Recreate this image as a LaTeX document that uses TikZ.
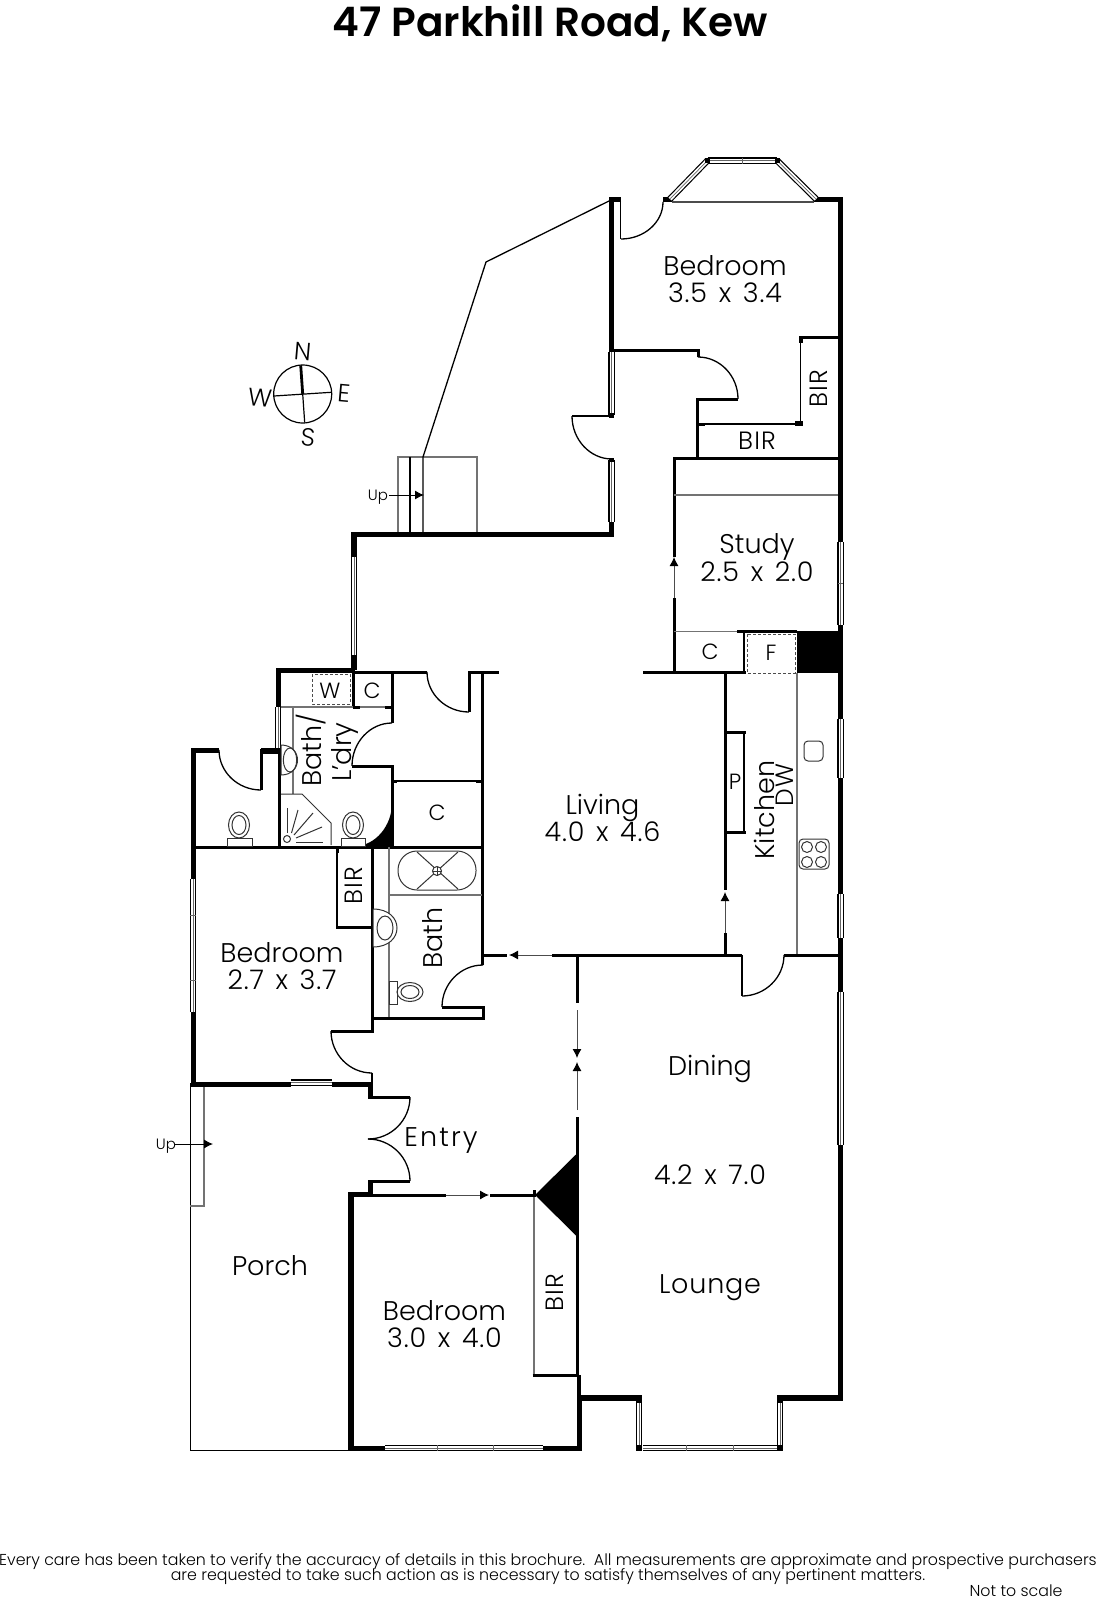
\documentclass[tikz,border=0pt]{standalone}
\usepackage{fontspec}
\setmainfont{Poppins}[UprightFont=* Light,BoldFont=* SemiBold]
\usetikzlibrary{calc,arrows.meta}
\newcommand\dimt[2]{{\addfontfeature{LetterSpace=3}#1\ \hspace{3.5pt}x\ \hspace{3.5pt}#2}}
\tikzset{
 wallA/.style={line width=5.5pt,line cap=butt,line join=miter},
 wallB/.style={line width=3pt,line cap=butt,line join=miter},
 wallC/.style={line width=1.3pt},
 greyl/.style={line width=1.4pt,draw=black!55},
 fix/.style={line width=1pt,draw=black!80},
 dashbox/.style={line width=1pt,draw=black!70,dash pattern=on 3pt off 2pt},
 arrowl/.style={line width=1pt,draw=black!70,-{Latex[length=9pt,width=9pt,black]}},
 lab/.style={font=\fontsize{27}{27}\selectfont,inner sep=0pt,align=center,text height=19pt,text depth=0pt},
 labs/.style={font=\fontsize{22}{22}\selectfont,inner sep=0pt,text height=15.5pt,text depth=0pt},
 labb/.style={font=\fontsize{25}{25}\selectfont\addfontfeature{LetterSpace=5},inner sep=0pt,text height=17.5pt,text depth=0pt},
 labt/.style={font=\fontsize{15}{15}\selectfont,inner sep=0pt,text height=10.5pt,text depth=0pt},
 foot/.style={font=\fontsize{15.8}{15.8}\selectfont,inner sep=0pt},
}
\newcommand\qarc[3]{\draw[wallC] (#1) .. controls ($(#1)!0.55!(#2)$) and ($(#3)!0.55!(#2)$) .. (#3);}
\newcommand\winw[2]{%
 \draw[line width=6.4pt,black] (#1) -- (#2);
 \draw[line width=4pt,white] (#1) -- (#2);
 \draw[line width=.7pt,black!60] (#1) -- (#2);}
\begin{document}
\begin{tikzpicture}[x=1pt,y=-1pt]
\useasboundingbox (0,0) rectangle (1096,1600);
\fill[white] (0,0) rectangle (1096,1600);
% title
\node[font=\bfseries\fontsize{40.6}{41}\selectfont,inner sep=0pt] (title) at (550,23) {47 Parkhill Road, Kew};
% compass
\draw[line width=1.2pt] (302.7,394) circle (29);
\draw[line width=1.2pt] (274,396) -- (331.3,392.3);
\draw[line width=1.2pt] (302.7,394) -- (304.7,422.7);
\draw[line width=2.8pt] (300.7,365.3) -- (302.7,394);
\node[labb,rotate=-5] (cn) at (302.7,352) {N};
\node[labb,rotate=-5] (ce) at (344,393) {E};
\node[labb,rotate=-5] (cs) at (308,437) {S};
\node[labb,rotate=-5] (cw) at (260,398) {W};
% outer stair
\draw[greyl] (398,532) -- (398,457) -- (477,457) -- (477,532);
\draw[wallC] (410,457) -- (410,532);
\draw[wallC] (423,532) -- (423,457) -- (486,262) -- (609,201);
\node[labt] (up1) at (378,495) {Up};
\draw[arrowl,draw=black] (389,495) -- (424,495);
% right bedroom walls
\draw[wallA] (621,199.5) -- (611.5,199.5) -- (611.5,352);
\draw[wallC] (620.7,197) -- (620.7,239);
\qarc{621,239}{663,239}{663,202}
\draw[wallA] (663,199.5) -- (672,199.5);
\draw[wallA] (814,199.5) -- (840.5,199.5) -- (840.5,542);
\draw[line width=1.2pt,black!70] (672,202) -- (814,202);
\winw{670,199}{707.5,160.5}
\winw{707.5,160.5}{777,160.5}
\winw{777,160.5}{816,199}
\fill (705,157.5) rectangle (710,163);
\fill (775,157.5) rectangle (780,163);
\draw[line width=.8pt,black!60] (742,157.5) -- (742,163.5);
\winw{611.5,352}{611.5,415}
\winw{611.5,460}{611.5,522}
\draw[wallA] (611.5,522) -- (611.5,534.5) -- (351,534.5);
\draw[wallA] (354,534) -- (354,557);
\winw{354,557}{354,655}
\draw[wallA] (354,655) -- (354,670);
\fill (609,413) rectangle (614,418);
\fill (609,458) rectangle (614,462);
\draw[wallB] (611.5,350) -- (698.5,350) -- (698.5,357);
\qarc{698,357}{738,357}{738,399}
\draw[wallB] (738,399) -- (697,399) -- (697,458);
\draw[line width=1.4pt] (612,416) -- (572,416);
\qarc{572,416}{572,459}{612,459}
\draw[wallC] (697,424) -- (800.7,424) -- (800.7,337);
\draw[wallB] (697,424) -- (705,424);
\fill (795,421) rectangle (802.5,426);
\fill (799,336) rectangle (802.5,343);
\draw[wallB] (799,337) -- (838,337);
\node[labb,rotate=90] (bir1) at (819,389) {BIR};
\node[labb] (bir2) at (757,441) {BIR};
\node[lab] (bed1) at (725,266) {Bedroom};
\node[lab] (bed1d) at (725,293) {\dimt{3.5}{3.4}};
% study
\draw[wallB] (838,458.5) -- (674.5,458.5) -- (674.5,557);
\draw[greyl] (674,495) -- (838,495);
\draw[arrowl] (674,598) -- (674,557);
\draw[wallB] (674,598) -- (674,673);
\draw[greyl] (674,631.5) -- (737,631.5);
\draw[wallB] (737,631.5) -- (797,631.5);
\draw[wallB] (643,672) -- (746,672);
\draw[line width=2pt] (744,631) -- (744,672);
\node[lab] (study) at (757,544) {Study};
\node[lab] (studyd) at (757,572) {\dimt{2.5}{2.0}};
\node[labs] (c1) at (710,652) {C};
\draw[dashbox] (747,634) rectangle (795,673);
\node[labs] (f1) at (771,653) {F};
\fill (797,631) rectangle (843,673);
% right wall
\winw{840.5,542}{840.5,625}
\draw[wallA] (840.5,625) -- (840.5,719);
\winw{840.5,719}{840.5,778}
\draw[wallA] (840.5,778) -- (840.5,894);
\winw{840.5,894}{840.5,938}
\draw[wallA] (840.5,938) -- (840.5,992);
\winw{840.5,992}{840.5,1145}
\draw[line width=.8pt,black!60] (838,583) -- (843,583);
\draw[wallA] (840.5,1145) -- (840.5,1398) -- (777,1398);
% kitchen
\draw[greyl] (797,673) -- (797,955);
\draw[wallB] (725,672) -- (725,890);
\draw[arrowl] (725,933) -- (725,892);
\draw[wallB] (725,933) -- (725,955);
\draw[wallB] (725,732) -- (746,732);
\draw[wallB] (725,832) -- (746,832);
\draw[line width=1.3pt] (744,732) -- (744,832);
\node[labs] (p1) at (735,782) {P};
\node[font=\fontsize{27}{27}\selectfont,inner sep=0pt,rotate=90,text height=19pt,text depth=0pt] (kit) at (765,810) {Kitchen};
\node[labb,rotate=90] (dw) at (785,785) {DW};
\draw[fix,rounded corners=4pt] (804,741) rectangle (823,761);
\draw[fix,rounded corners=4pt] (799,839) rectangle (829,869);
\foreach \cx in {807,821} \foreach \cy in {847,862} \draw[fix] (\cx,\cy) circle (5.5);
% mid wall
\draw[wallB] (482,955) -- (507,955);
\draw[arrowl] (552,955) -- (509,955);
\draw[wallB] (552,955) -- (742,955);
\draw[wallB] (784,955) -- (838,955);
\draw[line width=1.2pt] (742,955) -- (742,996);
\qarc{742,996}{784,996}{784,955}
\node[lab] (living) at (602.5,805) {Living};
\node[lab] (livingd) at (602.5,832) {\dimt{4.0}{4.6}};
\node[lab] (dining) at (710,1066) {Dining};
\node[lab] (dd) at (710,1175) {\dimt{4.2}{7.0}};
\node[lab,font=\fontsize{27}{27}\selectfont\addfontfeature{LetterSpace=3}] (lounge) at (710,1284) {Lounge};
% centre spine
\draw[wallB] (577,955) -- (577,1003);
\draw[arrowl] (577,1010) -- (577,1058);
\draw[arrowl] (577,1110) -- (577,1062);
\draw[wallB] (577,1117) -- (577,1375);
\draw[line width=4pt] (578.5,1375) -- (578.5,1398);
\fill (535,1195) -- (577.5,1153) -- (577.5,1237) -- cycle;
\draw[greyl] (534,1195) -- (534,1375);
\draw[wallB] (532.5,1375) -- (578,1375);
\draw[wallB] (534,1197) -- (534,1190);
\draw[wallB] (373,1195) -- (446,1195);
\draw[arrowl] (446,1195) -- (489,1195);
\draw[wallB] (490,1195) -- (535,1195);
\node[labb,rotate=90] (bir3) at (555,1293) {BIR};
\node[lab] (bed3) at (444.5,1311) {Bedroom};
\node[lab] (bed3d) at (444.5,1338) {\dimt{3.0}{4.0}};
% lower bedroom
\draw[wallA] (373,1194.5) -- (351,1194.5) -- (351,1448.5) -- (385,1448.5);
\draw[wallA] (543,1448.5) -- (579.5,1448.5) -- (579.5,1395);
\winw{385,1448}{543,1448}
\draw[line width=.8pt,black!60] (437,1445) -- (437,1451);
\draw[line width=.8pt,black!60] (493,1445) -- (493,1451);
% lounge bay
\draw[wallA] (578,1398) -- (642,1398);
\winw{639,1402}{639,1445}
\winw{780,1402}{780,1445}
\winw{643,1448}{777,1448}
\fill (636,1395) rectangle (642,1403);
\fill (777,1395) rectangle (783,1403);
\fill (636,1445) rectangle (642,1451);
\fill (777,1445) rectangle (783,1451);
\draw[line width=.8pt,black!60] (686,1445) -- (686,1451);
\draw[line width=.8pt,black!60] (733,1445) -- (733,1451);
% entry
\draw[wallA] (370.5,1197) -- (370.5,1181);
\draw[wallB] (368,1181) -- (410,1181);
\qarc{410,1181}{410,1139}{368,1139}
\qarc{410,1097}{410,1139}{368,1139}
\draw[wallB] (368,1097) -- (410,1097);
\draw[wallA] (370.5,1097) -- (370.5,1082);
\draw[wallA] (332,1084.5) -- (373,1084.5);
\draw[wallC] (372,1073) -- (372,1082);
\qarc{331,1031}{331,1073}{372,1073}
\draw[wallB] (331,1031) -- (372,1031) -- (372,847);
\node[lab,font=\fontsize{27}{27}\selectfont\addfontfeature{LetterSpace=8}] (entry) at (441,1137) {Entry};
% porch
\draw[line width=1pt] (190,1083) -- (190,1450.5) -- (350,1450.5);
\draw[greyl] (190,1206) -- (204,1206) -- (204,1084);
\node[labt] (up2) at (166,1144) {Up};
\draw[arrowl,draw=black] (175,1144) -- (213,1144);
\node[lab] (porch) at (270,1266) {Porch};
% west rooms
\draw[wallA] (219,750.5) -- (193.5,750.5) -- (193.5,879);
\winw{193,879}{193,1012}
\draw[line width=.8pt,black!60] (190,915) -- (196,915);
\draw[line width=.8pt,black!60] (190,980) -- (196,980);
\draw[wallA] (193.5,1012) -- (193.5,1084.5) -- (291,1084.5);
\winw{291,1082.5}{332,1082.5}
\draw[wallA] (261,751) -- (281,751);
\draw[wallB] (261,749) -- (261,790);
\qarc{261,790}{219,790}{219,750}
\draw[wallB] (191,847) -- (482,847);
\draw[wallB] (279,750) -- (279,847);
\draw[wallA] (278.5,707) -- (278.5,670.5) -- (355,670.5);
\winw{278,707}{278,748}
\draw[wallB] (355,672) -- (427,672);
\qarc{469,712}{427,712}{427,672}
\draw[wallB] (469,712) -- (469,672) -- (499,672);
\draw[wallB] (482,672) -- (482,965);
\draw[wallB] (392,672) -- (392,723);
\qarc{392,723}{352,723}{352,766}
\draw[wallB] (352,766) -- (392,766) -- (392,847);
\draw[wallB] (353,672) -- (353,707);
\draw[greyl] (281,707) -- (392,707);
\draw[wallB] (353,707) -- (360,707);
\draw[wallB] (385,707) -- (392,707);
\fill (392,803) .. controls (392,826) and (375,846) .. (355,846) -- (392,846) -- cycle;
\draw[wallC] (392,781) -- (481,781);
\draw[wallB] (392,781) -- (397,781);
\draw[wallB] (476,781) -- (481,781);
\node[labs] (c2) at (437,813) {C};
\draw[dashbox] (312,674) rectangle (350,704);
\node[labs] (w1) at (330,691) {W};
\node[labs] (c3) at (372,691) {C};
\draw[greyl] (293,707) -- (293,794);
% basin laundry
\draw[fix,fill=white] (281,745) .. controls (303,745) and (303,775) .. (281,775) -- cycle;
\draw[fix] (290,760) ellipse (6.7 and 12);
% shower
\draw[fix] (281,794) -- (302,794) -- (331,823) -- (331,845);
\draw[fix] (287,839) circle (3.5);
\draw[fix] (287,833) -- (287,808);
\draw[fix] (291.5,833) -- (298,810);
\draw[fix] (294,835) -- (313,813);
\draw[fix] (296,838) -- (322,827);
\draw[fix] (296,842) -- (323,842);
% toilets
\draw[fix] (353,825) ellipse (10.5 and 13);
\draw[fix] (353,825) ellipse (7 and 9.5);
\draw[fix,fill=white] (341,838) rectangle (365,846);
\draw[fix] (239,825) ellipse (10.5 and 13);
\draw[fix] (239,825) ellipse (7 and 9.5);
\draw[fix,fill=white] (227,838) rectangle (252,846);
\node[lab,rotate=90] (bl1) at (312,750) {Bath/};
\node[lab,rotate=90] (bl2) at (342,752) {L'dry};
% bath
\draw[greyl] (389,847) -- (389,1018);
\draw[greyl] (389,895) -- (482,895);
\draw[fix,rounded corners=19pt] (398,851) rectangle (476,890);
\draw[fix] (417,852) -- (458,889);
\draw[fix] (417,889) -- (458,852);
\draw[fix,fill=white] (437,871) circle (4.5);
\draw[fix] (432.5,871) -- (441.5,871);
\draw[fix] (437,866.5) -- (437,875.5);
\draw[fix,fill=white] (373,909) .. controls (405,909) and (405,947) .. (373,947) -- cycle;
\draw[fix] (385,928) ellipse (8 and 12);
\draw[fix,fill=white] (389,981) rectangle (397,1004);
\draw[fix] (410,992) ellipse (13 and 9.5);
\draw[fix] (410,992) ellipse (9 and 6.5);
\draw[wallB] (373,1018) -- (483,1018) -- (483,1007) -- (442,1007);
\qarc{442,1007}{442,965}{483,965}
\node[lab,rotate=90] (bath) at (433,938) {Bath};
% BIR west
\draw[wallC] (337,847) -- (337,927);
\draw[wallB] (336,927) -- (372,927);
\draw[wallB] (337,847) -- (337,853);
\node[labb,rotate=90] (bir4) at (354,886) {BIR};
\node[lab] (bed2) at (282,953) {Bedroom};
\node[lab] (bed2d) at (282,980) {\dimt{2.7}{3.7}};
% footer
\node[foot] (f1a) at (548,1562) {Every care has been taken to verify the accuracy of details in this brochure.\ \ All measurements are approximate and prospective purchasers};
\node[foot] (f2a) at (548,1576.5) {are requested to take such action as is necessary to satisfy themselves of any pertinent matters.};
\node[foot] (f3a) at (1016,1591) {Not to scale};
\end{tikzpicture}
\end{document}
